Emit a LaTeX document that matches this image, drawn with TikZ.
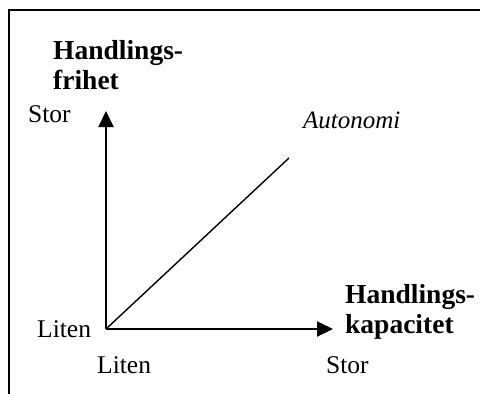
\documentclass[tikz,border=0pt]{standalone}
\usepackage{fontspec}
\setmainfont{Liberation Serif}
\usetikzlibrary{arrows.meta}
\begin{document}
\begin{tikzpicture}[x=1pt,y=-1pt,
  lbl/.style={inner sep=0pt,anchor=base west,font=\fontsize{25.5}{29}\selectfont},
  ttl/.style={inner sep=0pt,anchor=north west,align=left,font=\fontsize{27.5}{29.5}\selectfont\bfseries},
  axis/.style={line width=2pt,-{Triangle[length=16pt,width=15pt]}},
  diagline/.style={line width=1.4pt}]
\useasboundingbox (0,0) rectangle (480,394);
\draw[line width=2pt] (8.5,395) -- (8.5,10) -- (481,10);
\coordinate (o) at (106,329);
\coordinate (ytop) at (106,111);
\coordinate (xend) at (333,329);
\coordinate (dend) at (289,158);
\draw[axis] (o) -- (ytop);
\draw[axis] (o) -- (xend);
\draw[diagline] (o) -- (dend);
\node[ttl] (ytitle) at (53,40.5) {Handlings-\\frihet};
\node[ttl] (xtitle) at (345,284.5) {Handlings-\\kapacitet};
\node[lbl] (ystor) at (28,122) {Stor};
\node[lbl] (yliten) at (37,337) {Liten};
\node[lbl] (xliten) at (97,373) {Liten};
\node[lbl] (xstor) at (326,373) {Stor};
\node[lbl,font=\fontsize{25}{29}\selectfont\itshape] (auto) at (303,128) {Autonomi};
\end{tikzpicture}
\end{document}
